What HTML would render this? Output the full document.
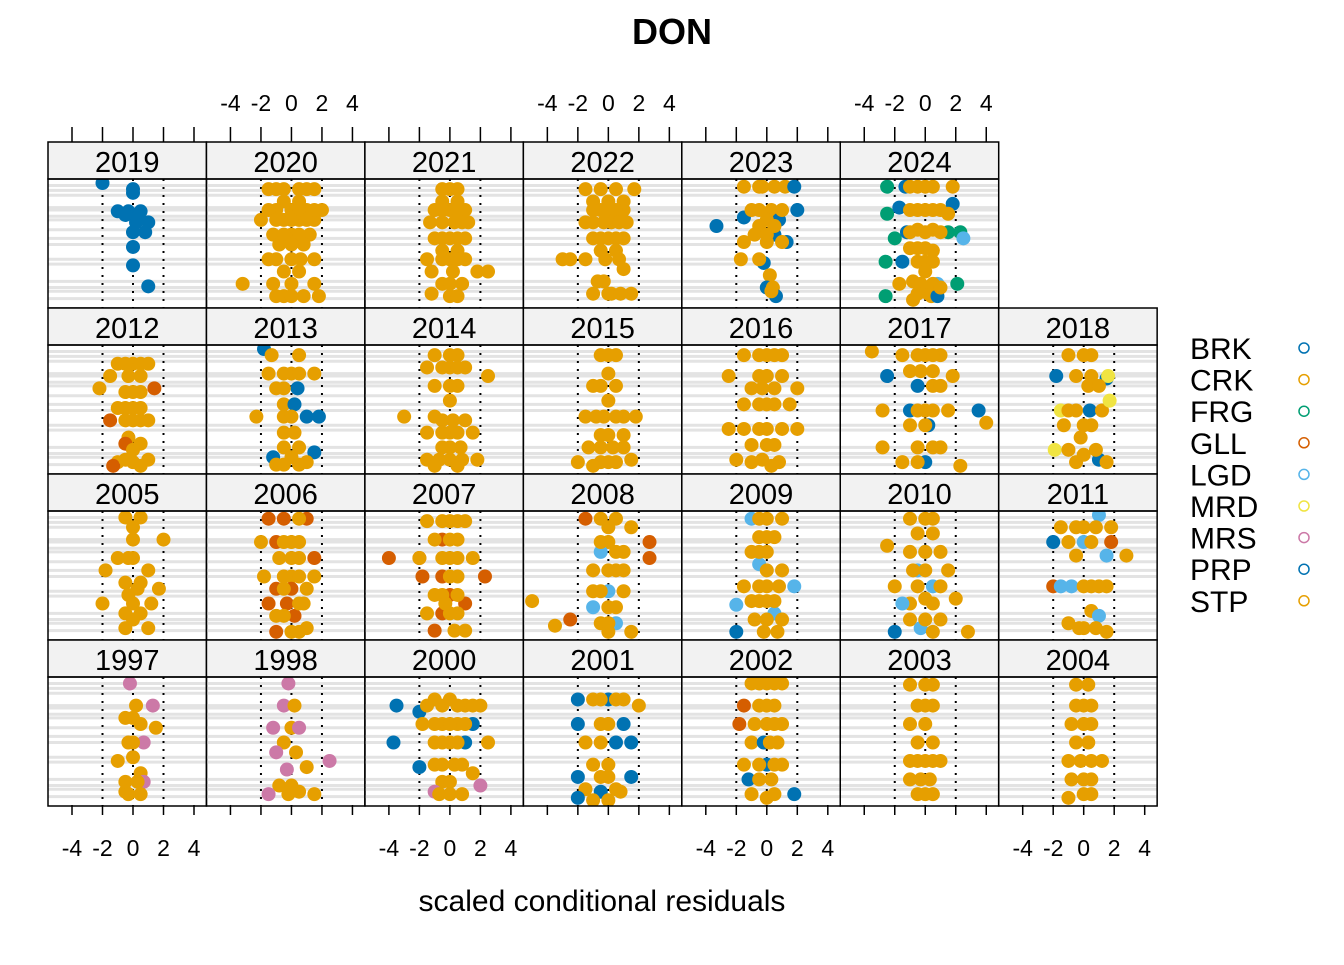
<!DOCTYPE html>
<html><head><meta charset="utf-8"><style>
body{margin:0;background:#fff}
svg text{font-family:"Liberation Sans",Arial,sans-serif}
</style></head><body>
<svg id="chart" width="1344" height="960" viewBox="0 0 1344 960" xmlns="http://www.w3.org/2000/svg">
<text x="672" y="44" font-size="36" font-weight="bold" text-anchor="middle">DON</text>
<text x="602" y="911" font-size="30" text-anchor="middle">scaled conditional residuals</text>
<g id="panels"></g>
<g id="legend"></g>
</svg>
<script>
const years = [["2019","2020","2021","2022","2023","2024"],["2012","2013","2014","2015","2016","2017","2018"],["2005","2006","2007","2008","2009","2010","2011"],["1997","1998","2000","2001","2002","2003","2004"]];
const seriesNames = ["BRK","CRK","FRG","GLL","LGD","MRD","MRS","PRP","STP"];
const seriesColors = {B:"#0072B2",C:"#E69F00",F:"#009E73",G:"#D55E00",L:"#56B4E9",M:"#F0E442",R:"#CC79A7",P:"#0072B2",S:"#E69F00"};
const xTicks = [-4,-2,0,2,4];
const gridY = [0.02,0.06,0.1,0.2,0.22,0.27,0.3,0.38,0.45,0.5,0.62,0.66,0.8,0.85,0.88,0.94];
// each point: series code, residual, vertical position (0 top .. 1 bottom)
const points = {
"2019":"B -2 0;B 0 .05;B 0 .08;B -1 .23;B -.3 .23;B .5 .23;B 1 .32;B .2 .32;B 0 .4;B .8 .4;B 0 .52;B 0 .67;B 1 .84;B -.5 .26;B .3 .28",
"2020":"C -1.5 .05;C -.5 .05;C .5 .05;C 1.5 .05;C -1 .22;C 0 .22;C 1 .22;C 2 .22;C -2 .3;C -.5 .3;C .5 .3;C 1.5 .3;C -1.2 .42;C 0 .42;C 1.2 .42;C -.8 .5;C .8 .5;C -1.5 .62;C 0 .62;C 1.5 .62;C -3.2 .82;C -1.2 .82;C 0 .82;C 1.5 .82;C -1 .92;C .8 .92;C 1.8 .92;C -1 .05;C 1 .05;C -.5 .15;C .5 .15;C -1.5 .22;C .5 .22;C 1.5 .22;C -1 .3;C 0 .3;C 1 .3;C -.5 .42;C .5 .42;C 0 .5;C -1 .62;C .6 .62;C -.5 .72;C .5 .72;C -.5 .92;C 0 .92",
"2021":"C -.5 .05;C .5 .05;C -1 .22;C 0 .22;C 1 .22;C -1.3 .32;C .3 .32;C 1.2 .32;C -1 .45;C 0 .45;C 1 .45;C -1.5 .62;C 0 .62;C 1 .62;C 2.5 .72;C -1.2 .72;C -.5 .82;C .8 .82;C 0 .92;C -1.2 .9;C 0 .05;C -.5 .15;C .5 .15;C -.5 .22;C .5 .22;C -.5 .32;C .8 .32;C -.5 .45;C .5 .45;C -.5 .55;C .5 .55;C -.5 .62;C .5 .62;C .2 .72;C 0 .82;C .5 .92;C 1.8 .72",
"2022":"C -1.5 .05;C -.5 .05;C .5 .05;C 1.7 .05;C -1 .22;C 0 .22;C 1 .22;C -1.5 .32;C .2 .32;C 1.2 .32;C -1 .45;C 0 .45;C 1 .45;C -3 .62;C -1.5 .62;C -.2 .62;C 1 .7;C -.7 .8;C -1 .9;C .2 .9;C 1.5 .9;C -1 .15;C 0 .15;C 1 .15;C -.5 .22;C .5 .22;C -1 .32;C -.3 .32;C .7 .32;C -.5 .45;C .5 .45;C -.5 .55;C .5 .55;C -2.5 .62;C .7 .62;C -.3 .8;C 0 .9;C .8 .9",
"2023":"C -1.5 .03;C -.3 .03;C 1.2 .03;B 1.8 .03;B -3.3 .35;B -1.5 .28;C -1 .22;C .3 .22;B .8 .3;C 1 .22;B 2 .22;C -.5 .35;B .5 .42;B 1.3 .48;C -1.5 .48;C 0 .48;B -.2 .65;C -1.7 .62;C .2 .75;B 0 .85;C .4 .85;B .6 .92;C -.5 .03;C .5 .03;C -.5 .22;C 0 .3;C .5 .35;C -.8 .42;C 0 .42;C 1 .48;C -.5 .62;C .3 .88",
"2024":"F -2.5 .03;B -1.3 .03;C -.5 .03;C .5 .03;C 1.8 .03;F -2.5 .25;B -1.7 .2;C -1 .22;C 0 .22;C 1 .22;B 1.8 .17;F -2 .45;B -1.2 .4;C -.5 .38;C .5 .38;F 1.5 .4;F 2.3 .4;L 2.5 .45;C -1 .53;C .5 .55;F -2.6 .64;B -1.5 .64;C 0 .64;C -.8 .8;L .8 .82;F 2.1 .82;C -1.7 .82;C .2 .9;F -2.6 .92;C .4 .92;B .8 .92;C -.8 .95;C -1 .03;C 0 .03;C -.5 .22;C .5 .22;C 1.5 .25;C -1 .4;C 0 .4;C 1 .4;C -.5 .53;C 0 .53;C -.5 .64;C .5 .64;C 0 .72;C -.3 .82;C .5 .82;C -.5 .9;C 1 .85",
"2012":"C -1 .12;C 0 .12;C 1 .12;C -1.5 .22;C -.3 .22;G 1.4 .32;C -2.2 .32;C -.5 .35;C .5 .35;C -1 .48;C 0 .48;G -1.5 .58;C -.5 .58;C .5 .58;C 1 .58;C -.3 .72;G -.5 .77;C .5 .77;C -1 .92;C 0 .92;G -1.3 .95;C 1 .9;C -.5 .12;C .5 .12;C .5 .22;C 0 .35;C -.5 .48;C .5 .48;C 0 .58;C 0 .82;C -.5 .9;C .5 .95",
"2013":"B -1.8 0;C -1.3 .05;C .5 .05;C -1.5 .2;C 0 .2;C 1.5 .2;C -1 .32;B .4 .32;C -.5 .45;B .2 .45;C -2.3 .55;C -.5 .55;B 1 .55;B 1.8 .55;C .2 .68;C -.5 .8;B -1.2 .88;C 0 .88;B 1.5 .84;C -1 .94;C .5 .94;C -.5 .2;C .5 .2;C -.5 .32;C 0 .55;C -.5 .68;C .5 .8;C -.5 .94;C 1 .92",
"2014":"C -1 .05;C .5 .05;C -1.5 .15;C 0 .15;C 1 .15;C 2.5 .22;C -1 .3;C .5 .3;C 0 .42;C -3 .55;C -1 .55;C .2 .58;C 1 .58;C -1.5 .68;C 0 .68;C 1.5 .68;C -.5 .8;C .7 .8;C -1.5 .9;C 0 .9;C 1.8 .9;C 0 .05;C -.5 .15;C .5 .15;C 0 .3;C -.5 .58;C .5 .68;C -.5 .68;C 0 .8;C -.7 .9;C .8 .9;C -1 .95;C .5 .95",
"2015":"C -.5 .05;C .5 .05;C 0 .2;C -1 .3;C .5 .3;C 0 .42;C -1.5 .55;C -.3 .55;C 1 .55;C 1.8 .55;C -.5 .7;C 1 .7;C -1.3 .8;C .3 .8;C -.5 .92;C .5 .92;C 1.5 .9;C -2 .92;C 0 .05;C -.5 .3;C -.8 .55;C .5 .55;C 0 .7;C -.5 .8;C 1 .8;C 0 .92;C -1 .95",
"2016":"C -1.5 .05;C 0 .05;C 1 .05;C -2.5 .22;C -.5 .22;C 1 .22;C -1 .32;C .5 .32;C 2 .32;C -1.5 .45;C 0 .45;C 1.5 .45;C -2.5 .65;C -.5 .65;C 1 .65;C 2 .65;C -1 .78;C .5 .78;C -2 .9;C -.3 .9;C .8 .92;C -.5 .05;C .5 .05;C 0 .22;C -.3 .32;C -.5 .45;C .5 .45;C -1.5 .65;C 0 .65;C 0 .78;C -1 .92;C .3 .95",
"2017":"C -3.5 .02;C -1.5 .05;C 0 .05;C 1 .05;C -1 .18;C .5 .18;B -2.5 .22;C 1.8 .22;B -.5 .3;C .5 .3;C -2.8 .5;B -1 .5;C 0 .5;C 1.5 .5;B 3.5 .5;C 4 .6;C -1 .62;B .2 .62;C -2.8 .8;C -.5 .8;C 1 .8;B 0 .92;C -1.5 .92;C 2.3 .95;C -.5 .05;C .5 .05;C -.3 .18;C 1 .3;C -.5 .5;C .5 .5;C 0 .62;C .5 .8;C -.5 .92",
"2018":"C -1 .05;C .5 .05;B -1.8 .22;C -.5 .22;B 1.5 .24;M 1.6 .22;C .3 .3;M -1.5 .5;C -.5 .5;B .4 .5;C 1.2 .5;C -1.3 .62;C .5 .62;M 1.7 .42;M -1.9 .82;C -1 .82;C 0 .86;B 1 .9;C -.5 .92;C 1.5 .92;C 0 .05;C .5 .22;C 1 .3;C -1 .5;C 0 .62;C -.2 .72;C .8 .82",
"2005":"C -.5 .02;C .5 .02;C 0 .2;C 2 .2;C -1 .35;C 0 .35;C -1.8 .45;C 1 .45;C -.5 .55;C .3 .6;C 1.7 .6;C -2 .72;C 0 .72;C 1.2 .72;C -.5 .8;C .5 .8;C -.5 .92;C 1 .92;C 0 .1;C -.3 .35;C .5 .55;C -.3 .65;C 0 .85",
"2006":"G -1.5 .03;G -.5 .03;G 1 .03;C -2 .22;G -1 .22;C 0 .22;G 1.5 .35;C -.8 .35;C .5 .35;C -1.8 .5;C 0 .5;C 1.5 .5;G -1 .6;G 0 .6;C 1 .6;G -1.5 .72;G -.3 .72;C .8 .72;C -1 .82;G .2 .82;C 1 .92;G -1 .95;C 0 .95;C .5 .03;C -.5 .22;C .5 .22;C 0 .35;C -.5 .5;C .5 .5;C -.5 .6;C .5 .72;C -.5 .82;C .5 .95",
"2007":"G -4 .35;G -2 .35;C -1.5 .05;C 0 .05;C 1 .05;G -.5 .2;C .5 .2;C -2 .35;C -.5 .35;C 1.5 .35;G 2.3 .5;G -1.8 .5;G -.5 .5;C .5 .5;C -1 .65;G 0 .65;G 1 .72;C -1.5 .8;G -.5 .8;C .5 .8;G -1 .94;C .3 .94;C -.5 .05;C .5 .05;C 0 .2;C -1 .2;C 0 .35;C .5 .35;C 0 .5;C -.5 .65;C .5 .65;C 0 .8;C -.3 .72;C 1 .94",
"2008":"G -1.5 .03;C -.5 .03;C .5 .03;C 1.5 .1;G 2.7 .22;C 0 .22;L -.5 .3;C 1 .3;G 2.7 .35;C -1 .45;C .5 .45;C -5 .7;C -3.5 .9;C -1 .62;L 0 .62;C 1 .62;L -1 .75;C .5 .75;G -2.5 .85;C -.5 .88;L .5 .88;C 1.5 .95;C 0 .95;C 0 .1;C -.5 .22;C .5 .3;C 0 .45;C -.5 .62;C 0 .75;C 0 .88;C 1 .45",
"2009":"L -1 .03;C 0 .03;C 1 .03;C -.5 .18;C .5 .18;C -1 .3;C 0 .3;L -.5 .4;C 1 .45;C -1.5 .58;C 0 .58;L 1.8 .58;L -2 .73;C -1 .7;C 0 .7;L .5 .8;C -.8 .85;C 1 .85;B -2 .95;C -.2 .95;C -.5 .03;C 0 .18;C -.5 .3;C 0 .45;C -.5 .58;C .8 .58;C -.5 .7;C .5 .7;C 0 .85;C .7 .95",
"2010":"C -1 .03;C .5 .03;C -2.5 .25;L 0 .3;C -1 .3;C 1 .3;L -.5 .45;C 0 .45;C 1.5 .45;C -2 .58;C -.5 .58;L .5 .58;C 2 .68;C -1 .72;L -1.5 .72;C .5 .72;B -2 .95;C -1 .85;C 1 .85;C 2.8 .95;L -.3 .92;C 0 .03;C -.5 .15;C .5 .15;C 0 .3;C -.8 .45;C 1 .58;C 0 .68;C 0 .85;C .5 .95",
"2011":"C -1.5 .1;L 1 .0;C 0 .1;C 1.8 .1;B -2 .22;C -1 .22;L 0 .22;G 1.8 .22;C -.5 .33;L 1.5 .33;C 2.8 .33;G -2 .58;L -1.5 .58;L -.8 .58;C .5 .58;C 1.5 .58;C .5 .78;C -1 .88;L 1 .82;C 0 .92;C 1.5 .95;C -.5 .1;C .8 .1;C .5 .22;C 0 .58;C 1 .58;C -.3 .92;C .8 .92",
"1997":"R -.2 .02;C .2 .2;R 1.3 .2;C -.5 .3;C .5 .35;C 1.5 .38;R .7 .5;C -.3 .5;C 0 .62;C -1 .65;C .5 .75;C -.5 .82;R .7 .82;C -.5 .9;C .5 .92;C 0 .3;C 0 .5;C -.3 .92;C .3 .82",
"1998":"R -.2 .02;R -.5 .2;C .2 .2;R -1.2 .38;C 0 .38;R .5 .38;C -.5 .5;R -1 .58;C .3 .58;R 2.5 .65;C 1 .7;R -.3 .72;C -.8 .85;R -1.5 .92;C .5 .9;C 1.5 .92;C -.2 .92;C 0 .85",
"2000":"B -3.5 .2;B -3.7 .5;B -2 .25;C -1 .15;C 0 .15;C 1 .2;C 2 .2;B 1.5 .35;C -1.8 .35;C -.5 .35;C .5 .35;C -1 .5;C 0 .5;B 1 .5;C 2.5 .5;C -1 .68;C .3 .68;B -2 .7;C 1.5 .75;C -.5 .82;R 2 .85;C 0 .92;R -1 .9;C -1.5 .2;C -.5 .2;C .5 .2;C 1.5 .2;C -1 .35;C 0 .35;C 1 .35;C -.5 .5;C .5 .5;C -.5 .68;C .8 .68;C 0 .82;C -.7 .92;C .8 .92",
"2001":"B -2 .15;C -1 .15;B 0 .15;C 1 .15;C 2 .2;B -2 .35;C -.5 .35;B 1 .35;C -1.5 .5;B .5 .5;B 1.5 .5;C -1 .68;B -2 .78;C 0 .78;B 1.5 .78;C -1.5 .88;B -.5 .9;C .8 .9;B -2 .95;C 0 .97;C -.5 .15;C .5 .15;C 0 .35;C -.5 .5;C 0 .68;C -.5 .78;C .5 .88;C -1 .97",
"2002":"C -1 .02;C 0 .02;C 1 .02;G -1.5 .2;C -.5 .2;C .5 .2;G -1.8 .35;C 0 .35;C 1 .35;C -1 .5;B -.2 .5;C .7 .5;C -1.5 .68;B 0 .68;C 1 .68;B -1.2 .8;C .3 .8;C -1 .92;B 1.8 .92;C 0 .95;C -.5 .02;C .5 .02;C 0 .2;C -.8 .35;C .5 .35;C .2 .5;C -.5 .68;C .5 .68;C -.5 .8;C .5 .92",
"2003":"C -1 .03;C .5 .03;C -.5 .2;C .5 .2;C -1 .35;C 0 .35;C -.5 .5;C .5 .5;C -1 .65;C 0 .65;C 1 .65;C -1 .8;C .3 .8;C -.5 .92;C .5 .92;C 0 .03;C 0 .2;C -.5 .65;C .5 .65;C -.3 .8;C 0 .92",
"2004":"C -.5 .03;C .3 .03;C -.5 .2;C .5 .2;C -.8 .35;C .5 .35;C -.5 .5;C .3 .5;C -1 .65;C .5 .65;C 1.2 .65;C -.8 .8;C .5 .8;C 0 .92;C -1 .95;C 0 .2;C 0 .35;C -.2 .65;C 0 .8;C .5 .92"
};

const NS="http://www.w3.org/2000/svg";
const L0=48, CW=158.45, T0=142, RH=166, SH=37;
function xScale(col,v){return L0+col*CW+85+v*15.25;}
function mk(tag,attrs,parent){const e=document.createElementNS(NS,tag);for(const k in attrs)e.setAttribute(k,attrs[k]);parent.appendChild(e);return e;}
const g=document.getElementById('panels');
const defs=mk('defs',{},g);
years.forEach((row,r)=>{
  row.forEach((yr,c)=>{
    const x0=L0+c*CW, y0=T0+r*RH, py=y0+SH, ph=RH-SH;
    const pg=mk('g',{},g);
    
    
    const cp=mk('clipPath',{id:'cp'+yr},defs);
    mk('rect',{x:x0,y:py,width:CW,height:ph},cp);
    const inner=mk('g',{'clip-path':'url(#cp'+yr+')'},pg);
    gridY.forEach(f=>{const l=mk('line',{x1:x0,x2:x0+CW,y1:py+4+f*(ph-6),y2:py+4+f*(ph-6),stroke:'#e3e3e3','stroke-width':3},inner);
      });
    [-2,0,2].forEach(v=>{const l=mk('line',{x1:xScale(c,v),x2:xScale(c,v),y1:py,y2:py+ph,stroke:'#000','stroke-width':2,'stroke-dasharray':'2,6'},inner);
      });
    points[yr].split(';').forEach(p=>{const a=p.trim().split(' ');
      const d=mk('circle',{cx:xScale(c,+a[1]),cy:py+4+(+a[2])*(ph-6),r:7,fill:seriesColors[a[0]]},inner);
      });
    const s=mk('rect',{x:x0,y:y0,width:CW,height:SH,fill:'#f2f2f2',stroke:'#000','stroke-width':1.5},pg);
    
    const t=mk('text',{x:x0+CW/2,y:y0+30,'font-size':29,'text-anchor':'middle'},pg);t.textContent=yr;
    
    const b=mk('rect',{x:x0,y:py,width:CW,height:ph,fill:'none',stroke:'#000','stroke-width':1.5},pg);
    
  });
});
for(let c=0;c<7;c++){
  xTicks.forEach(v=>{
    const x=xScale(c,v);
    const bt=mk('line',{x1:x,x2:x,y1:805,y2:815,stroke:'#000','stroke-width':1.5},g);
    
    if(c%2==0){const t=mk('text',{x:x,y:856,'font-size':23,'text-anchor':'middle'},g);t.textContent=v;
      }
    if(c<6){const tt=mk('line',{x1:x,x2:x,y1:127,y2:142,stroke:'#000','stroke-width':1.5},g);
      
      if(c%2==1){const t=mk('text',{x:x,y:111,'font-size':23,'text-anchor':'middle'},g);t.textContent=v;
        }}
  });
}
const lg=document.getElementById('legend');
const legCodes=['B','C','F','G','L','M','R','P','S'];
seriesNames.forEach((n,i)=>{
  const y=349+i*31.6;
  const t=mk('text',{x:1190,y:y+10,'font-size':30},lg);t.textContent=n;
  
  const ci=mk('circle',{cx:1304,cy:y-1,r:5,fill:'none',stroke:seriesColors[legCodes[i]],'stroke-width':1.5},lg);
  
});
</script>
</body></html>
